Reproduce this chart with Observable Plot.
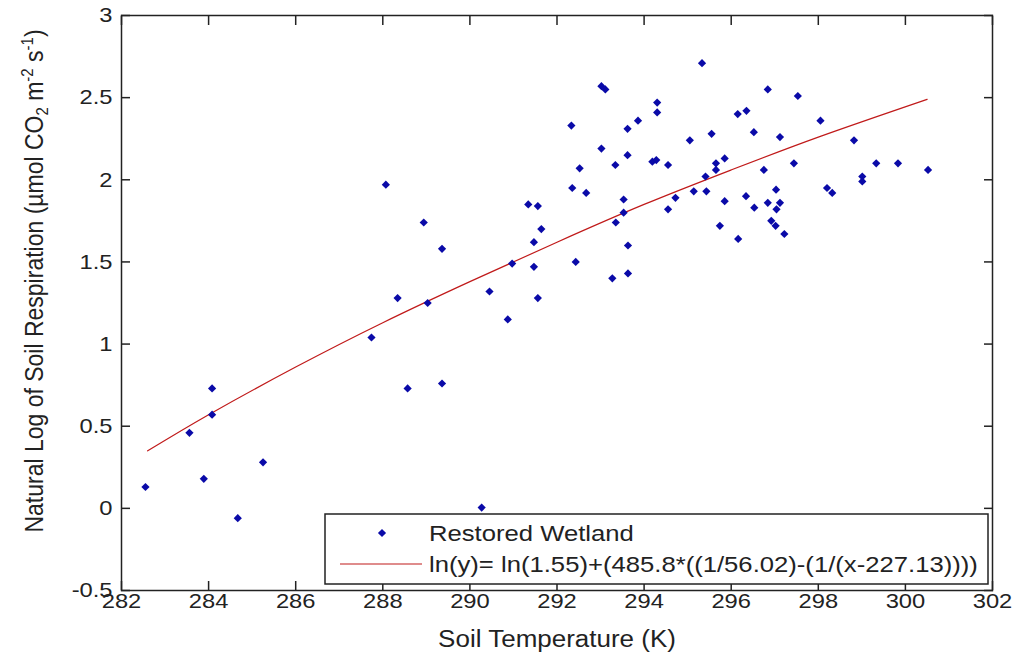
<!DOCTYPE html>
<html>
<head>
<meta charset="utf-8">
<script src="https://cdn.jsdelivr.net/npm/d3@7"></script>
<script src="https://cdn.jsdelivr.net/npm/@observablehq/plot@0.6"></script>
<style>
  html, body { margin: 0; padding: 0; background: #ffffff; }
  svg { display: block; }
</style>
</head>
<body>
<script>
// ---- Data ----
const xTicks = [282, 284, 286, 288, 290, 292, 294, 296, 298, 300, 302];
const yTicks = [-0.5, 0, 0.5, 1, 1.5, 2, 2.5, 3];

const soilTemp = [
  282.55, 283.56, 283.89, 284.08, 284.08, 284.67, 285.25, 287.74, 288.07, 288.34,
  288.57, 288.94, 289.03, 289.36, 289.36, 290.27, 290.45, 290.87, 290.97, 291.34,
  291.47, 291.47, 291.56, 291.56, 291.64, 292.33, 292.35, 292.43, 292.52, 292.67,
  293.02, 293.11, 293.02, 293.27, 293.34, 293.35, 293.53, 293.53, 293.62, 293.62,
  293.63, 293.63, 293.86, 294.19, 294.28, 294.30, 294.30, 294.55, 294.55, 294.72,
  295.05, 295.14, 295.33, 295.41, 295.43, 295.55, 295.65, 295.65, 295.74, 295.85,
  295.85, 296.15, 296.16, 296.34, 296.35, 296.52, 296.53, 296.75, 296.84, 296.84,
  296.92, 297.02, 297.03, 297.04, 297.12, 297.12, 297.22, 297.44, 297.53, 298.05,
  298.20, 298.32, 298.82, 299.01, 299.01, 299.33, 299.83, 300.52
];
const logResp = [
  0.13, 0.46, 0.18, 0.73, 0.57, -0.06, 0.28, 1.04, 1.97, 1.28,
  0.73, 1.74, 1.25, 1.58, 0.76, 0.005, 1.32, 1.15, 1.49, 1.85,
  1.62, 1.47, 1.84, 1.28, 1.70, 2.33, 1.95, 1.50, 2.07, 1.92,
  2.57, 2.55, 2.19, 1.40, 2.09, 1.74, 1.88, 1.80, 2.31, 2.15,
  1.60, 1.43, 2.36, 2.11, 2.12, 2.47, 2.41, 2.09, 1.82, 1.89,
  2.24, 1.93, 2.71, 2.02, 1.93, 2.28, 2.10, 2.06, 1.72, 2.13,
  1.87, 2.40, 1.64, 1.90, 2.42, 2.29, 1.83, 2.06, 2.55, 1.86,
  1.75, 1.72, 1.94, 1.82, 2.26, 1.86, 1.67, 2.10, 2.51, 2.36,
  1.95, 1.92, 2.24, 2.02, 1.99, 2.10, 2.10, 2.06
];

// fitted curve, points
const fitTemp    = [282.6, 284, 286, 288, 290, 292, 294, 296, 298, 300.5];
const fitLogResp = [0.35, 0.57, 0.86, 1.13, 1.38, 1.62, 1.85, 2.06, 2.26, 2.49];

const seriesName = "Restored Wetland";
const fitName = "ln(y)= ln(1.55)+(485.8*((1/56.02)-(1/(x-227.13))))";
const xLabel = "Soil Temperature (K)";
const yLabel = "Natural Log of Soil Respiration (µmol CO2 m-2 s-1)";

// ---- Build tables ----
const points = soilTemp.map((t, i) => ({t, r: logResp[i]}));
const fit = fitTemp.map((t, i) => ({t, r: fitLogResp[i]}));

const W = 1017, H = 657;
const M = {left: 121, right: 25, top: 15, bottom: 67};
const ink = "#222222";
const blue = "#0a0aa8";
const red = "#c01a1a";
const FS = 21;      // tick labels
const LFS = 23;     // axis titles
const GFS = 22.7;   // legend
const STRETCH = 1.13;
const MR = 3.7; // marker radius

const svg = Plot.plot({
  width: W, height: H,
  marginLeft: M.left, marginRight: M.right, marginTop: M.top, marginBottom: M.bottom,
  x: {domain: [282, 302], label: null},
  y: {domain: [-0.5, 3], label: null},
  style: {fontFamily: "'Liberation Sans', Arial, sans-serif", fontSize: FS + "px", background: "#ffffff", color: ink, overflow: "visible"},
  marks: [
    Plot.line(fit, {x: "t", y: "r", curve: "natural", stroke: red, strokeWidth: 1.2}),
    Plot.dot(points, {x: "t", y: "r", symbol: "diamond2", r: MR, fill: blue, stroke: null}),
    Plot.frame({stroke: ink, strokeWidth: 1.5}),
    // inward tick marks on all four sides
    Plot.axisX(xTicks, {anchor: "bottom", tickSize: 9, dy: -9, fill: "none", tickFormat: () => "", label: null, stroke: ink, strokeWidth: 1.5}),
    Plot.axisX(xTicks, {anchor: "top", tickSize: 9, dy: 9, fill: "none", tickFormat: () => "", label: null, stroke: ink, strokeWidth: 1.5}),
    Plot.axisY(yTicks, {anchor: "left", tickSize: 9, dx: 9, fill: "none", tickFormat: () => "", label: null, stroke: ink, strokeWidth: 1.5}),
    Plot.axisY(yTicks, {anchor: "right", tickSize: 9, dx: -9, fill: "none", tickFormat: () => "", label: null, stroke: ink, strokeWidth: 1.5}),
    // tick labels
    Plot.axisX(xTicks, {anchor: "bottom", tickSize: 0, tickPadding: 3, tickFormat: d => String(d), label: null, fill: ink, fontSize: FS}),
    Plot.axisY(yTicks, {anchor: "left", tickSize: 0, tickPadding: 9, tickFormat: d => String(d), label: null, fill: ink, fontSize: FS}),
    // axis titles
    Plot.text([xLabel], {text: d => d, frameAnchor: "bottom", textAnchor: "middle", dy: 49, lineAnchor: "middle", fill: ink, fontSize: LFS}),
    Plot.text([yLabel], {text: d => d, frameAnchor: "left", textAnchor: "middle", rotate: -90, dx: -87, dy: -22, lineAnchor: "middle", fill: ink, fontSize: LFS})
  ]
});

document.body.appendChild(svg);

const root = d3.select(svg);

// y label with sub/superscripts
root.selectAll("text").filter(function () { return this.textContent === yLabel; }).each(function () {
  const t = d3.select(this);
  t.attr("text-anchor", "middle");
  t.text(null);
  const parts = [
    {s: "Natural Log of Soil Respiration (µmol CO"},
    {s: "2", sub: true},
    {s: " m"},
    {s: "-2", sup: true},
    {s: " s"},
    {s: "-1", sup: true},
    {s: ")"}
  ];
  let shift = 0;
  for (const p of parts) {
    const target = p.sub ? 5 : p.sup ? -9 : 0;
    const ts = t.append("tspan").text(p.s);
    if (target - shift !== 0) ts.attr("dy", target - shift);
    if (p.sub || p.sup) ts.attr("font-size", 15);
    shift = target;
  }
});

// Legend (inside the axes, lower right)
const axRight = W - M.right, axBottom = H - M.bottom;
const lg = {x: 325, y: axBottom - 6 - 70, w: axRight - 4 - 325, h: 70};
const leg = root.append("g").attr("class", "legend").attr("text-anchor", "start");
leg.append("rect").attr("x", lg.x).attr("y", lg.y).attr("width", lg.w).attr("height", lg.h)
  .attr("fill", "#ffffff").attr("stroke", ink).attr("stroke-width", 1.5);
const row1 = lg.y + 19, row2 = lg.y + 50;
leg.append("path").attr("d", d3.symbol(d3.symbolDiamond2, Math.PI * MR * MR)())
  .attr("transform", `translate(${lg.x + 57},${row1})`).attr("fill", blue);
leg.append("line").attr("x1", lg.x + 15).attr("x2", lg.x + 97).attr("y1", row2).attr("y2", row2)
  .attr("stroke", red).attr("stroke-width", 1.2);
leg.append("text").attr("text-anchor", "start").attr("transform", `translate(${lg.x + 104},${row1})`).attr("dy", "0.35em")
  .attr("fill", ink).attr("font-size", GFS).text(seriesName);
leg.append("text").attr("text-anchor", "start").attr("transform", `translate(${lg.x + 104},${row2})`).attr("dy", "0.35em")
  .attr("fill", ink).attr("font-size", GFS).text(fitName);

// horizontal stretch of the glyphs, as in the reference rendering
root.selectAll("text").each(function () {
  const tr = this.getAttribute("transform") || "";
  const rotated = /rotate/.test(tr);
  this.setAttribute("transform", tr + (rotated ? ` scale(1,${STRETCH})` : ` scale(${STRETCH},1)`));
});
</script>
</body>
</html>
